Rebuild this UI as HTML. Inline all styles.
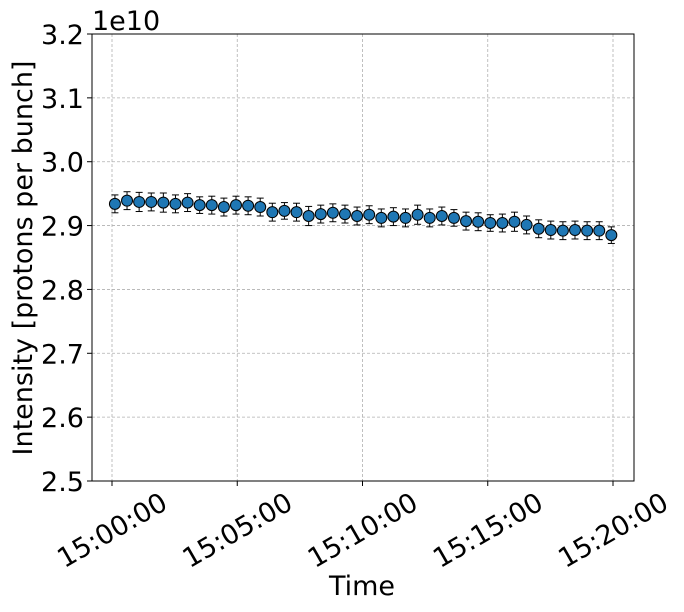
<!DOCTYPE html>
<html><head><meta charset="utf-8"><style>
html,body{margin:0;padding:0;background:#fff;}
svg{display:block;font-family:"DejaVu Sans","Liberation Sans",sans-serif;}
</style></head><body>
<svg id="chart" width="684" height="612">
<g id="grid"></g>
<g id="series"></g>
<rect x="92" y="34" width="542" height="447" fill="none" stroke="#000" stroke-width="1"/>
<g id="axes"></g>
<text x="92" y="30" font-size="27">1e10</text>
<text x="362" y="595" font-size="27" text-anchor="middle">Time</text>
<text transform="translate(32,258) rotate(-90)" font-size="27" text-anchor="middle">Intensity [protons per bunch]</text>
</svg>
<script>
const times = ["15:00:07","15:00:36","15:01:05","15:01:34","15:02:03","15:02:32","15:03:01","15:03:30","15:03:59","15:04:28","15:04:57","15:05:26","15:05:55","15:06:24","15:06:53","15:07:22","15:07:51","15:08:20","15:08:49","15:09:18","15:09:47","15:10:16","15:10:45","15:11:14","15:11:43","15:12:12","15:12:41","15:13:10","15:13:39","15:14:08","15:14:37","15:15:06","15:15:35","15:16:04","15:16:33","15:17:02","15:17:31","15:18:00","15:18:29","15:18:58","15:19:27","15:19:56"];
const intensity = [2.934,2.939,2.937,2.937,2.936,2.934,2.936,2.932,2.932,2.929,2.932,2.931,2.929,2.921,2.923,2.921,2.915,2.918,2.920,2.918,2.915,2.917,2.912,2.914,2.912,2.917,2.912,2.915,2.912,2.907,2.906,2.904,2.904,2.906,2.901,2.895,2.893,2.892,2.893,2.892,2.892,2.885];
const errors = [0.014,0.014,0.015,0.014,0.015,0.014,0.014,0.013,0.014,0.014,0.014,0.014,0.014,0.014,0.013,0.014,0.015,0.014,0.014,0.014,0.014,0.014,0.014,0.014,0.014,0.015,0.014,0.014,0.013,0.014,0.014,0.013,0.014,0.015,0.014,0.014,0.014,0.014,0.014,0.014,0.014,0.013];
const yTicks = [2.5,2.6,2.7,2.8,2.9,3.0,3.1,3.2];
const yTickLabels = ["2.5","2.6","2.7","2.8","2.9","3.0","3.1","3.2"];
const xTicks = ["15:00:00","15:05:00","15:10:00","15:15:00","15:20:00"];

const NS="http://www.w3.org/2000/svg";
function sec(t){const p=t.split(":").map(Number);return p[0]*3600+p[1]*60+p[2]-54000;}
function xs(t){return 112+sec(t)*(501/1200);}
function ys(v){return 34+(3.2-v)*(447/0.7);}
function mk(tag,attrs,parent){const e=document.createElementNS(NS,tag);for(const k in attrs)e.setAttribute(k,attrs[k]);parent.appendChild(e);return e;}
const grid=document.getElementById("grid"),axes=document.getElementById("axes"),ser=document.getElementById("series");

yTicks.forEach((v,i)=>{
  const y=ys(v);
  const g=mk("line",{x1:92,x2:634,y1:y,y2:y,stroke:"#b0b0b0","stroke-width":0.8,"stroke-dasharray":"3,2"},grid);
  
  
  const t=mk("line",{x1:87,x2:92,y1:y,y2:y,stroke:"#000"},axes);
  
  
  const l=mk("text",{x:84,y:y+10,"font-size":27,"text-anchor":"end"},axes);
  l.textContent=yTickLabels[i];
  
  
});
xTicks.forEach(tk=>{
  const x=xs(tk);
  const g=mk("line",{x1:x,x2:x,y1:34,y2:481,stroke:"#b0b0b0","stroke-width":0.8,"stroke-dasharray":"3,2"},grid);
  
  
  const t=mk("line",{x1:x,x2:x,y1:481,y2:486,stroke:"#000"},axes);
  
  
  const l=mk("text",{transform:`translate(${x},${530}) rotate(-30)`,"font-size":27,"text-anchor":"middle",dy:"0.35em"},axes);
  l.textContent=tk;
  
  
});
times.forEach((t,i)=>{
  const x=xs(t),y=ys(intensity[i]),y1=ys(intensity[i]+errors[i]),y2=ys(intensity[i]-errors[i]);
  const g=mk("g",{},ser);
  
  
  mk("line",{x1:x,x2:x,y1:y1,y2:y2,stroke:"#000","stroke-width":1},g);
  mk("line",{x1:x-3.5,x2:x+3.5,y1:y1,y2:y1,stroke:"#000","stroke-width":1},g);
  mk("line",{x1:x-3.5,x2:x+3.5,y1:y2,y2:y2,stroke:"#000","stroke-width":1},g);
  mk("circle",{cx:x,cy:y,r:5.5,fill:"#1f77b4",stroke:"#000","stroke-width":1},g);
});
</script>
</body></html>
